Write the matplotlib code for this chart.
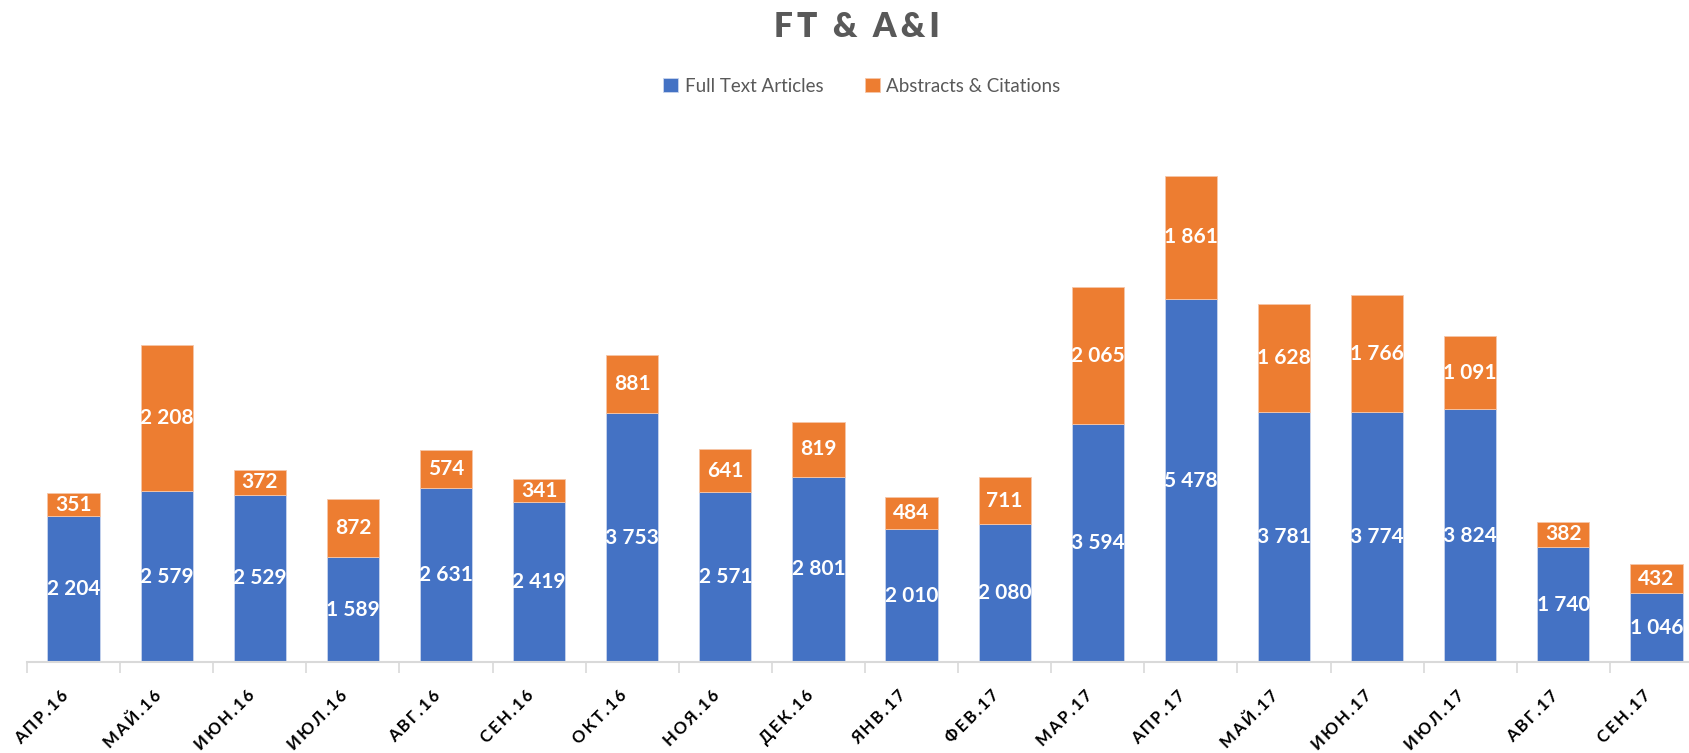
import matplotlib
matplotlib.use("Agg")
import matplotlib.pyplot as plt
import matplotlib.transforms as mtransforms
import numpy as np

months = ["АПР.16", "МАЙ.16", "ИЮН.16", "ИЮЛ.16", "АВГ.16", "СЕН.16", "ОКТ.16", "НОЯ.16", "ДЕК.16",
          "ЯНВ.17", "ФЕВ.17", "МАР.17", "АПР.17", "МАЙ.17", "ИЮН.17", "ИЮЛ.17", "АВГ.17", "СЕН.17"]
full_text = [2204, 2579, 2529, 1589, 2631, 2419, 3753, 2571, 2801, 2010, 2080, 3594, 5478, 3781, 3774, 3824, 1740, 1046]
abstracts = [351, 2208, 372, 872, 574, 341, 881, 641, 819, 484, 711, 2065, 1861, 1628, 1766, 1091, 382, 432]

BLUE = "#4472C4"
ORANGE = "#ED7D31"
GRAY = "#595959"
FONT = ["Lato", "DejaVu Sans"]

plt.rcParams['font.family'] = FONT

fig = plt.figure(figsize=(16.9, 7.53), dpi=100)
W, H = 1690, 753
left, right = 27, 1703
bottom, top = 662.3, 131.9
ax = fig.add_axes([left / W, 1 - bottom / H, (right - left) / W, (bottom - top) / H])

x = np.arange(len(months))
bw = 0.56
b1 = ax.bar(x, full_text, bw, color=BLUE, edgecolor="#C9D5EE", linewidth=0.6, label="Full Text Articles")
b2 = ax.bar(x, abstracts, bw, bottom=full_text, color=ORANGE, edgecolor="#F5C6A8", linewidth=0.6,
            label="Abstracts & Citations")

def fmt(v):
    return f"{v:,}".replace(",", " ")

for xi, f, a in zip(x, full_text, abstracts):
    ax.text(xi, f / 2, fmt(f), ha="center", va="center", color="white", fontsize=15, fontweight="bold")
    ax.text(xi, f + a / 2, fmt(a), ha="center", va="center", color="white", fontsize=15, fontweight="bold")

def spaced(s):
    return "\u2009".join(s)

ax.set_xlim(-0.5, len(months) - 0.5)
ax.set_ylim(0, 8000)
for s in ["top", "right", "left"]:
    ax.spines[s].set_visible(False)
ax.spines["bottom"].set_color("#D9D9D9")
ax.spines["bottom"].set_linewidth(1.5)
ax.set_yticks([])
ax.set_xticks(x)
ax.set_xticklabels([spaced(m) for m in months], rotation=45, ha="right", va="center",
                   rotation_mode="anchor", fontsize=12, fontweight="bold", color="#000000")
ax.tick_params(axis="x", which="major", length=0, pad=22)
offset = mtransforms.ScaledTranslation(-8 / 100, 0, fig.dpi_scale_trans)
for lbl in ax.get_xticklabels():
    lbl.set_transform(lbl.get_transform() + offset)
ax.set_xticks(np.arange(-0.5, len(months), 1), minor=True)
ax.tick_params(axis="x", which="minor", length=8, width=1.2, color="#D9D9D9")

fig.text(857 / W, 1 - 27 / H, "F\u2009T  &  A\u2009&\u2009I", ha="center", va="center", fontsize=24,
         fontweight="heavy", color=GRAY)

leg = fig.legend(handles=[b1, b2], loc="center", bbox_to_anchor=(862 / W, 1 - 86 / H), ncol=2,
                 frameon=False, fontsize=13.5, handlelength=0.8, handleheight=0.8, handletextpad=0.35,
                 columnspacing=2.2)
for t in leg.get_texts():
    t.set_color(GRAY)

fig.savefig("out.png", dpi=100)
